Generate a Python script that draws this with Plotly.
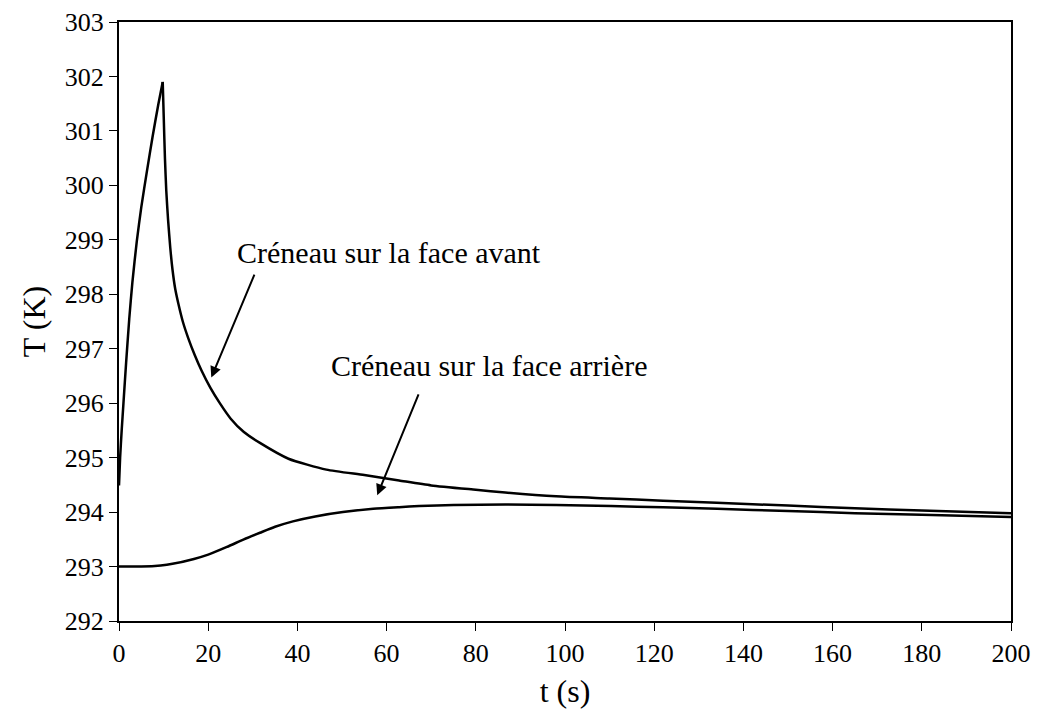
import plotly.graph_objects as go

# Front-face pulse ("Créneau sur la face avant"): heating phase then cooling phase
t_avant_rise = [0, 0.25, 0.6, 1.0, 1.6, 2.3, 3.0, 4.0, 5.0, 6.3, 7.5, 8.8, 9.8]
T_avant_rise = [294.49, 295.00, 295.50, 296.00, 296.75, 297.55, 298.22, 298.98, 299.60,
                300.28, 300.88, 301.48, 301.90]
t_avant_fall = [9.8, 10.05, 10.3, 10.6, 11.0, 11.5, 12.0, 12.6, 13.3, 14.3, 15.5, 17.0,
                18.5, 20.5, 22.6, 25.0, 28.0, 31.6, 38.0, 46.5, 55.0, 62.8, 70.0, 80.0,
                86.6, 98.0, 110.0, 122.0, 134.0, 150.0, 165.0, 180.0, 200.0]
T_avant_fall = [301.90, 301.20, 300.50, 299.90, 299.37, 298.85, 298.45, 298.10, 297.83,
                297.50, 297.20, 296.88, 296.60, 296.28, 296.00, 295.72, 295.47, 295.27,
                294.98, 294.78, 294.68, 294.58, 294.49, 294.41, 294.36, 294.29, 294.25,
                294.21, 294.17, 294.12, 294.07, 294.03, 293.98]

# Rear-face pulse ("Créneau sur la face arrière")
t_arriere = [0, 5.0, 9.35, 12.0, 16.8, 20.0, 24.2, 28.0, 31.6, 35.0, 39.0, 44.0,
             50.2, 57.0, 62.8, 67.3, 75.0, 86.6, 98.0, 110.3, 122.0, 134.1,
             150.0, 165.0, 180.0, 200.0]
T_arriere = [293.00, 293.00, 293.02, 293.05, 293.14, 293.22, 293.36, 293.50, 293.62, 293.73,
             293.83, 293.92, 294.00, 294.06, 294.09, 294.11, 294.13, 294.14, 294.13, 294.11,
             294.09, 294.06, 294.02, 293.98, 293.95, 293.91]

x_ticks = [0, 20, 40, 60, 80, 100, 120, 140, 160, 180, 200]
y_ticks = [292, 293, 294, 295, 296, 297, 298, 299, 300, 301, 302, 303]

FONT = "Liberation Serif, Times New Roman, serif"
LINE = dict(color="black", width=2.5, shape="spline", smoothing=0.6)

fig = go.Figure()
for xs, ys in [(t_avant_rise, T_avant_rise), (t_avant_fall, T_avant_fall),
               (t_arriere, T_arriere)]:
    fig.add_trace(go.Scatter(x=xs, y=ys, mode="lines", line=LINE,
                             showlegend=False, hoverinfo="skip"))

# labels with arrows
fig.add_annotation(x=20.7, y=296.47, ax=30.5, ay=298.39, xref="x", yref="y",
                   axref="x", ayref="y", showarrow=True, arrowhead=2,
                   arrowsize=1.1, arrowwidth=2, arrowcolor="black", text="")
fig.add_annotation(x=57.9, y=294.31, ax=67.3, ay=296.19, xref="x", yref="y",
                   axref="x", ayref="y", showarrow=True, arrowhead=2,
                   arrowsize=1.1, arrowwidth=2, arrowcolor="black", text="")
fig.add_annotation(x=26.0, y=298.77, xref="x", yref="y", xanchor="left",
                   yanchor="middle", showarrow=False,
                   text="Créneau sur la face avant",
                   font=dict(family=FONT, size=30, color="black"))
fig.add_annotation(x=47.0, y=296.69, xref="x", yref="y", xanchor="left",
                   yanchor="middle", showarrow=False,
                   text="Créneau sur la face arrière",
                   font=dict(family=FONT, size=30, color="black"))

fig.update_layout(
    width=1033, height=714,
    margin=dict(l=111, r=30, t=14, b=101),
    paper_bgcolor="white", plot_bgcolor="white",
    font=dict(family=FONT, size=26, color="black"),
)
fig.update_xaxes(range=[0, 200], tickvals=x_ticks, showgrid=False, zeroline=False,
                 showline=True, linecolor="black", linewidth=2, mirror=True,
                 ticks="outside", ticklen=8, tickwidth=1, tickcolor="black",
                 automargin=False,
                 title=dict(text="t (s)", font=dict(family=FONT, size=32), standoff=12),
                 tickfont=dict(family=FONT, size=26))
fig.update_yaxes(range=[292, 303], tickvals=y_ticks, showgrid=False, zeroline=False,
                 showline=True, linecolor="black", linewidth=2, mirror=True,
                 ticks="outside", ticklen=8, tickwidth=1, tickcolor="black",
                 automargin=False,
                 title=dict(text="T (K)", font=dict(family=FONT, size=32), standoff=10),
                 tickfont=dict(family=FONT, size=26))

fig.write_html("out.html")
